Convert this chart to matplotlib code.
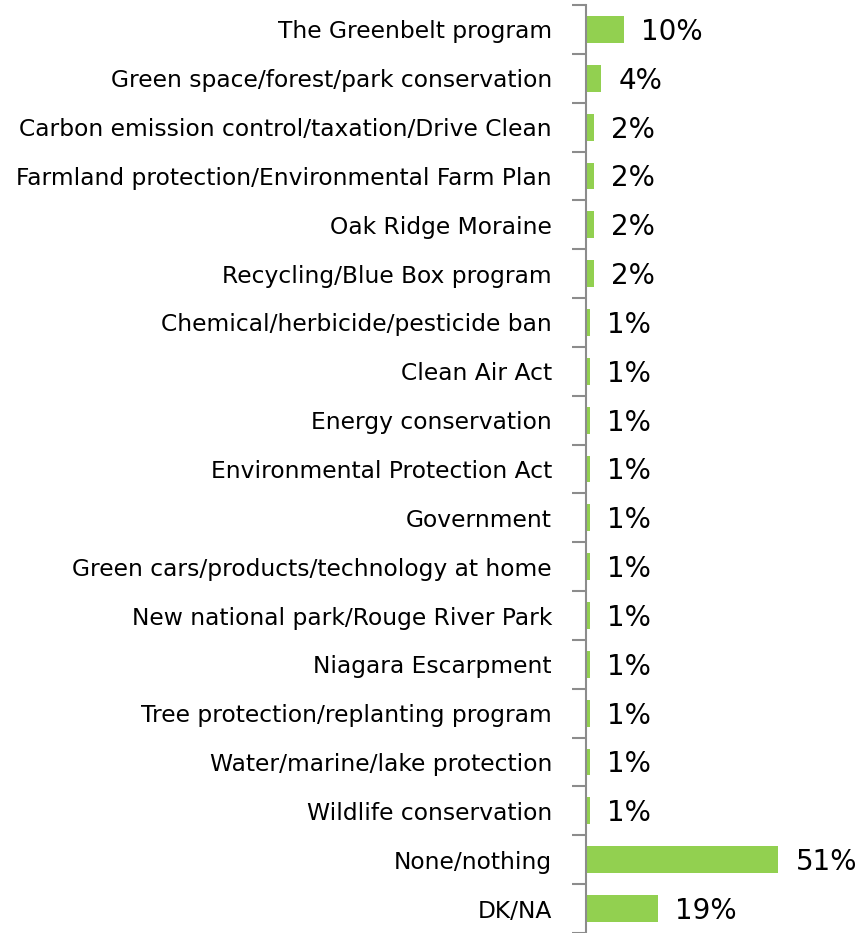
import numpy as np
import matplotlib
matplotlib.use("Agg")
import matplotlib.pyplot as plt

categories = [
    "The Greenbelt program",
    "Green space/forest/park conservation",
    "Carbon emission control/taxation/Drive Clean",
    "Farmland protection/Environmental Farm Plan",
    "Oak Ridge Moraine",
    "Recycling/Blue Box program",
    "Chemical/herbicide/pesticide ban",
    "Clean Air Act",
    "Energy conservation",
    "Environmental Protection Act",
    "Government",
    "Green cars/products/technology at home",
    "New national park/Rouge River Park",
    "Niagara Escarpment",
    "Tree protection/replanting program",
    "Water/marine/lake protection",
    "Wildlife conservation",
    "None/nothing",
    "DK/NA",
]
values = [10, 4, 2, 2, 2, 2, 1, 1, 1, 1, 1, 1, 1, 1, 1, 1, 1, 51, 19]

W, H = 862, 933
fig = plt.figure(figsize=(W / 100, H / 100), dpi=100)
ax = fig.add_axes([586 / W, 0, 276 / W, 1 - 5 / H])

n = len(categories)
y = np.arange(n)
ax.barh(y, values, height=0.55, color="#92D050", edgecolor="none")
ax.set_ylim(n - 0.5, -0.5)
ax.set_xlim(0, 73.2)

for yi, v in zip(y, values):
    ax.text(v + 4.6, yi + 0.05, f"{v}%", va="center", ha="left", fontsize=20, color="black")

ax.set_yticks(y)
ax.set_yticklabels(categories, fontsize=16.8)
ax.tick_params(axis="y", which="major", length=0, pad=24.5)
ax.set_yticks(np.arange(n + 1) - 0.5, minor=True)
ax.tick_params(axis="y", which="minor", length=10, width=1.5, color="#8c8c8c", direction="out")
ax.set_xticks([])

for s in ["top", "right", "bottom"]:
    ax.spines[s].set_visible(False)
ax.spines["left"].set_color("#8c8c8c")
ax.spines["left"].set_linewidth(1.5)

fig.savefig("out.png", dpi=100)
